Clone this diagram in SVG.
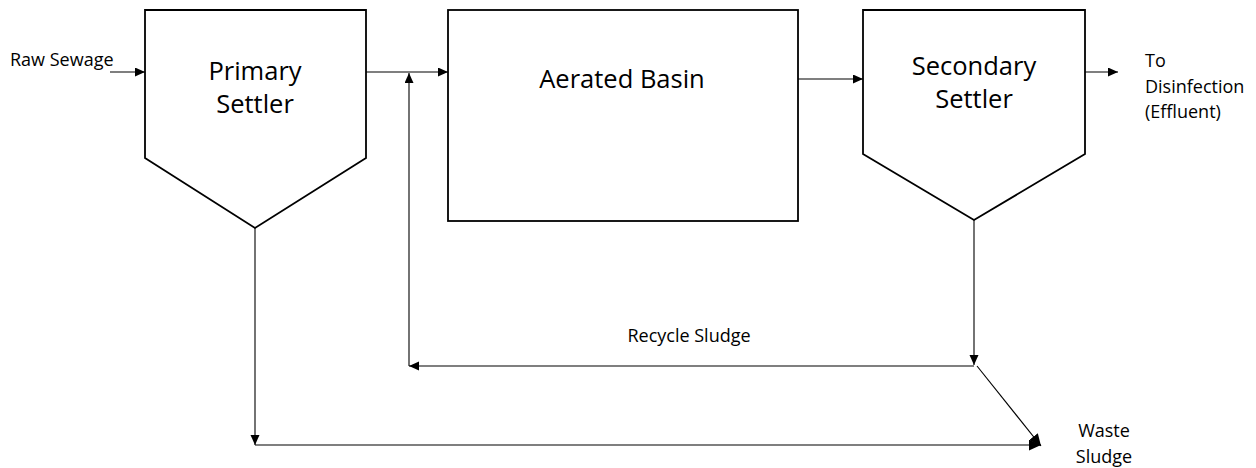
<svg xmlns="http://www.w3.org/2000/svg" width="1256" height="468" viewBox="0 0 1256 468">
  <style>
    .unit { fill: #ffffff; stroke: #000000; stroke-width: 1.8; }
    .flow { fill: none; stroke: #000000; stroke-width: 1.1; marker-end: url(#arrow); }
    .waste { fill: none; stroke: #000000; stroke-width: 1.1; marker-end: url(#arrow-big); }
    .big { font-family: "Open Sans", "Liberation Sans", sans-serif; font-size: 25.5px; fill: #000000; text-anchor: middle; }
    .small { font-family: "Open Sans", "Liberation Sans", sans-serif; font-size: 18px; fill: #000000; }
  </style>
  <defs>
    <marker id="arrow" markerUnits="userSpaceOnUse" markerWidth="12" markerHeight="10" refX="10" refY="4.5" orient="auto">
      <path d="M0,0 L10,4.5 L0,9 Z" fill="#000000"/>
    </marker>
    <marker id="arrow-big" markerUnits="userSpaceOnUse" markerWidth="14" markerHeight="12" refX="12" refY="5.5" orient="auto">
      <path d="M0,0 L12,5.5 L0,11 Z" fill="#000000"/>
    </marker>
  </defs>
  <rect width="1256" height="468" fill="#ffffff"/>

  <!-- process connectors -->
  <g id="connectors">
    <line class="flow" x1="110" y1="72" x2="145" y2="72"/>
    <line class="flow" x1="366" y1="72" x2="448" y2="72"/>
    <line class="flow" x1="798" y1="79" x2="863" y2="79"/>
    <line class="flow" x1="1085" y1="72" x2="1118" y2="72"/>
    <!-- recycle loop back to basin inlet -->
    <line class="flow" x1="974" y1="220" x2="974" y2="365"/>
    <line class="flow" x1="974" y1="366" x2="409" y2="366"/>
    <line class="flow" x1="409" y1="366" x2="409" y2="73"/>
    <!-- sludge wasting -->
    <line class="flow" x1="255" y1="228" x2="255" y2="445"/>
    <line class="waste" x1="255" y1="445" x2="1041" y2="445"/>
    <line class="waste" x1="977" y1="366" x2="1041" y2="446"/>
  </g>

  <g id="primary-settler">
    <polygon class="unit" points="145,10 366,10 366,158 255,228 145,158"/>
    <text class="big" x="255" y="80">Primary</text>
    <text class="big" x="255" y="113">Settler</text>
  </g>

  <g id="aerated-basin">
    <rect class="unit" x="448" y="10" width="350" height="211"/>
    <text class="big" x="622" y="88">Aerated Basin</text>
  </g>

  <g id="secondary-settler">
    <polygon class="unit" points="863,10 1085,10 1085,154 974,220 863,154"/>
    <text class="big" x="974" y="75">Secondary</text>
    <text class="big" x="974" y="108">Settler</text>
  </g>

  <g id="raw-sewage">
    <text class="small" x="10" y="66">Raw Sewage</text>
  </g>

  <g id="effluent">
    <text class="small" x="1145" y="67">To</text>
    <text class="small" x="1145" y="93">Disinfection</text>
    <text class="small" x="1145" y="118">(Effluent)</text>
  </g>

  <g id="recycle-sludge">
    <text class="small" x="689" y="342" text-anchor="middle">Recycle Sludge</text>
  </g>

  <g id="waste-sludge">
    <text class="small" x="1104" y="437" text-anchor="middle">Waste</text>
    <text class="small" x="1104" y="463" text-anchor="middle">Sludge</text>
  </g>
</svg>
